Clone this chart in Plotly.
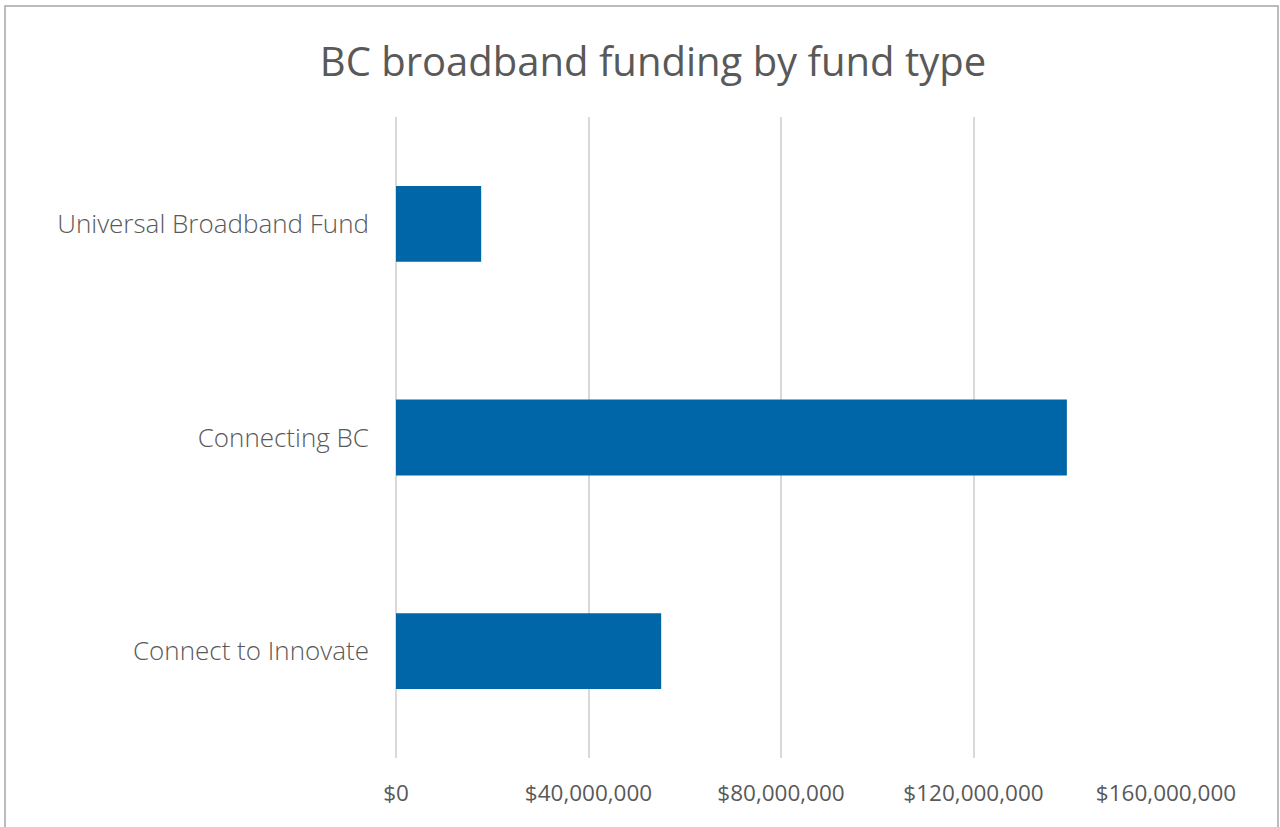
import plotly.graph_objects as go

categories = ["Universal Broadband Fund", "Connecting BC", "Connect to Innovate"]
funding = [17700000, 139400000, 55100000]
tick_values = [0, 40000000, 80000000, 120000000, 160000000]
tick_labels = ["$0", "$40,000,000", "$80,000,000", "$120,000,000", "$160,000,000"]

W, H = 1280, 827
L, R, T, B = 396, 1166, 117, 758

fig = go.Figure(go.Bar(
    x=funding, y=categories, orientation="h",
    marker=dict(color="#0066a8", line=dict(width=0)),
))

fig.update_layout(
    width=W, height=H,
    margin=dict(l=L, r=W - R, t=T, b=H - B, pad=0),
    paper_bgcolor="white", plot_bgcolor="white",
    showlegend=False,
    bargap=0.645,
    font=dict(family="Open Sans, sans-serif", color="#595959"),
    title=dict(text="BC broadband funding by fund type", x=653 / W, xref="container",
               xanchor="center", y=1 - 62 / H, yref="container", yanchor="middle",
               font=dict(size=40, color="#595959", family="Open Sans, sans-serif", weight=400)),
    xaxis=dict(range=[0, 160000000], tickvals=tick_values, ticktext=tick_labels,
               showgrid=True, gridcolor="#d9d9d9", gridwidth=1.5,
               zeroline=True, zerolinecolor="#d9d9d9", zerolinewidth=1.5,
               showline=False, ticks="", ticklabelstandoff=19,
               tickfont=dict(size=22.5, color="#595959", family="Open Sans, sans-serif")),
    yaxis=dict(autorange="reversed", showgrid=False, zeroline=False, showline=False,
               ticks="", ticklabelstandoff=26,
               tickfont=dict(size=26, color="#595959", family="Open Sans, sans-serif", weight=300)),
)

pw, ph = R - L, B - T
fig.add_shape(type="rect", xref="paper", yref="paper",
              x0=(5 - L) / pw, x1=(1278 - L) / pw,
              y0=(B - 840) / ph, y1=(B - 6) / ph,
              line=dict(color="#a6a6a6", width=1.5), fillcolor="rgba(0,0,0,0)", layer="below")

fig.write_html("out.html", config={"displayModeBar": False},
               post_script="document.body.style.margin='0px';")
